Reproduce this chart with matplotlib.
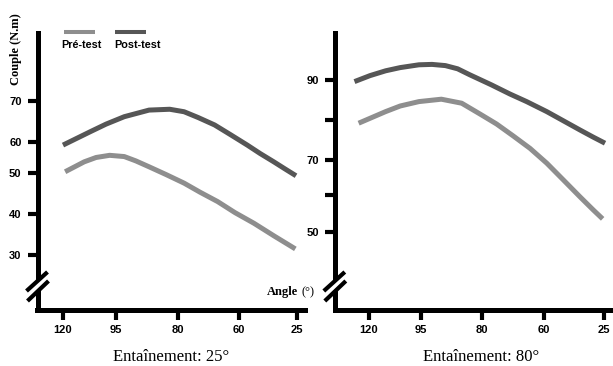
import numpy as np
import matplotlib
matplotlib.use("Agg")
import matplotlib.pyplot as plt
from matplotlib.lines import Line2D

# ---------------- data ----------------
x_ticks = [120, 95, 80, 60, 25]

# Entaînement 25°
angle_post_25 = [120, 107, 99.7, 93, 87, 82, 78, 73.4, 68, 62.9, 55, 47.3, 39, 32.2, 25.6]
couple_post_25 = [59.1, 62.6, 64.4, 66.2, 67.8, 68.0, 67.4, 66.0, 64.2, 61.9, 59.1, 56.4, 53.7, 51.4, 49.4]
angle_pre_25 = [119, 110, 104.4, 98, 93, 90.2, 87, 82.9, 78, 72.8, 67, 61.3, 51, 38.9, 26]
couple_pre_25 = [50.5, 53.7, 55.1, 55.8, 55.4, 54.0, 52.1, 49.7, 47.6, 45.4, 43.1, 40.4, 37.8, 34.7, 31.5]

# Entaînement 80°
angle_post_80 = [127, 119.5, 112, 105, 96, 92.3, 89, 86, 83, 77, 71, 65.6, 58.4, 48.7, 39, 31.2, 24.4]
couple_post_80 = [89.6, 91.1, 92.3, 93.1, 93.8, 93.9, 93.6, 92.8, 91.3, 88.8, 86.5, 84.6, 82.1, 79.8, 77.5, 75.7, 74.2]
angle_pre_80 = [125, 112, 105, 96, 90, 85, 80.5, 75.3, 69.9, 64.5, 58.4, 48.7, 39, 31.2, 25.8]
couple_pre_80 = [79.2, 82.1, 83.5, 84.6, 85.2, 84.2, 81.5, 79.0, 76.0, 72.9, 69.1, 64.3, 59.5, 55.9, 53.5]

y_ticks_25 = [30, 40, 50, 60, 70]
y_labels_25 = ["30", "40", "50", "60", "70"]
y_ticks_80 = [50, 60, 70, 80, 90]
y_labels_80 = ["50", "", "70", "", "90"]

titles = ["Entaînement: 25°", "Entaînement: 80°"]
legend_labels = ["Pré-test", "Post-test"]

# ---------------- style ----------------
W, H = 613, 366
C_PRE = "#8e8e8e"
C_POST = "#565656"
SANS = "Liberation Sans"
SERIF = "Liberation Serif"

fig = plt.figure(figsize=(W / 100, H / 100), dpi=100)


def fx(x):
    return x / W


def fy(y):
    return 1 - y / H


def make_scale(knot_vals, knot_pix, sign):
    kv = np.asarray(knot_vals, float)
    kp = sign * np.asarray(knot_pix, float)

    def fwd(v):
        return np.interp(np.asarray(v, float), kv, kp)

    def inv(t):
        return np.interp(np.asarray(t, float), kp, kv)

    return fwd, inv


def setup_axes(ax, x_knots_pix, y_knots_vals, y_knots_pix, x_px_range, y_px_range):
    ang = [0, 25, 60, 80, 95, 120, 160]
    fxw, fxi = make_scale(ang, x_knots_pix, -1)
    ax.set_xscale("function", functions=(fxw, fxi))
    ax.set_xlim(float(fxi(-x_px_range[0])), float(fxi(-x_px_range[1])))
    fyw, fyi = make_scale(y_knots_vals, y_knots_pix, -1)
    ax.set_yscale("function", functions=(fyw, fyi))
    ax.set_ylim(float(fyi(-y_px_range[1])), float(fyi(-y_px_range[0])))
    for s in ["top", "right"]:
        ax.spines[s].set_visible(False)
    for s in ["left", "bottom"]:
        ax.spines[s].set_linewidth(3.6)
        ax.spines[s].set_capstyle("projecting")
    ax.set_xticks(x_ticks)
    ax.set_xticklabels([str(t) for t in x_ticks])
    ax.minorticks_off()
    ax.tick_params(axis="x", direction="out", length=7, width=3, pad=4, labelsize=8)
    ax.tick_params(axis="y", direction="out", length=7.5, width=3, pad=4, labelsize=8)
    ax.set_facecolor("none")


# left panel
axL = fig.add_axes([fx(37.5), fy(310), fx(305 - 37.5), (310 - 33) / H])
setup_axes(
    axL,
    [338.4, 297, 239, 178, 116, 63, -12],
    [0, 30, 40, 50, 60, 70, 100],
    [377, 255, 214.3, 173.3, 142.3, 101, -23],
    (37.5, 305), (33, 310),
)
axL.set_yticks(y_ticks_25)
axL.set_yticklabels(y_labels_25)
axL.plot(angle_pre_25, couple_pre_25, color=C_PRE, lw=3.6,
         solid_capstyle="butt", solid_joinstyle="round", clip_on=False)
axL.plot(angle_post_25, couple_post_25, color=C_POST, lw=3.6,
         solid_capstyle="butt", solid_joinstyle="round", clip_on=False)

# right panel
axR = fig.add_axes([fx(334.8), fy(310), fx(613 - 334.8), (310 - 33) / H])
setup_axes(
    axR,
    [646.9, 604, 544, 482, 421, 369, 286],
    [0, 50, 60, 70, 80, 90, 120],
    [415, 231.7, 195, 160, 120, 80, -40],
    (334.8, 613), (33, 310),
)
axR.set_yticks(y_ticks_80)
axR.set_yticklabels(y_labels_80)
axR.plot(angle_pre_80, couple_pre_80, color=C_PRE, lw=3.6,
         solid_capstyle="butt", solid_joinstyle="round", clip_on=False)
axR.plot(angle_post_80, couple_post_80, color=C_POST, lw=3.6,
         solid_capstyle="butt", solid_joinstyle="round", clip_on=False)

for ax in (axL, axR):
    for lab in ax.get_xticklabels() + ax.get_yticklabels():
        lab.set_fontweight("bold")
        lab.set_fontfamily(SANS)

# axis break marks
for sx in (37.5, 334.8):
    cx, cy = sx, 286
    fig.add_artist(Line2D([fx(cx - 6), fx(cx + 6)], [fy(cy + 5.1), fy(cy - 5.1)],
                          color="white", lw=4, zorder=20))
    fig.add_artist(Line2D([fx(sx - 11), fx(sx + 10)], [fy(291), fy(272)],
                          color="black", lw=3.0, solid_capstyle="butt", zorder=21))
    fig.add_artist(Line2D([fx(sx - 10), fx(sx + 11)], [fy(301), fy(281)],
                          color="black", lw=3.0, solid_capstyle="butt", zorder=21))

# labels
fig.text(fx(16), fy(49), "Couple (N.m)", rotation=90, ha="center", va="center",
         family=SERIF, weight="bold", size=9)
fig.text(fx(298), fy(292), "Angle", ha="right", va="center",
         family=SERIF, weight="bold", size=9)
fig.text(fx(302), fy(292), "(°)", ha="left", va="center",
         family=SERIF, size=9)
fig.text(fx(171), fy(357), titles[0], ha="center", va="center", family=SERIF, size=12)
fig.text(fx(481), fy(357), titles[1], ha="center", va="center", family=SERIF, size=12)

# legend
for (x0, x1, tx), col, lab in zip([(64, 95, 61), (115, 146, 114)], [C_PRE, C_POST], legend_labels):
    fig.add_artist(Line2D([fx(x0), fx(x1)], [fy(32), fy(32)], color=col, lw=2.9,
                          solid_capstyle="butt"))
    fig.text(fx(tx), fy(45), lab, ha="left", va="center", family=SANS,
             weight="bold", size=7.8)

fig.savefig("out.png", dpi=100)
